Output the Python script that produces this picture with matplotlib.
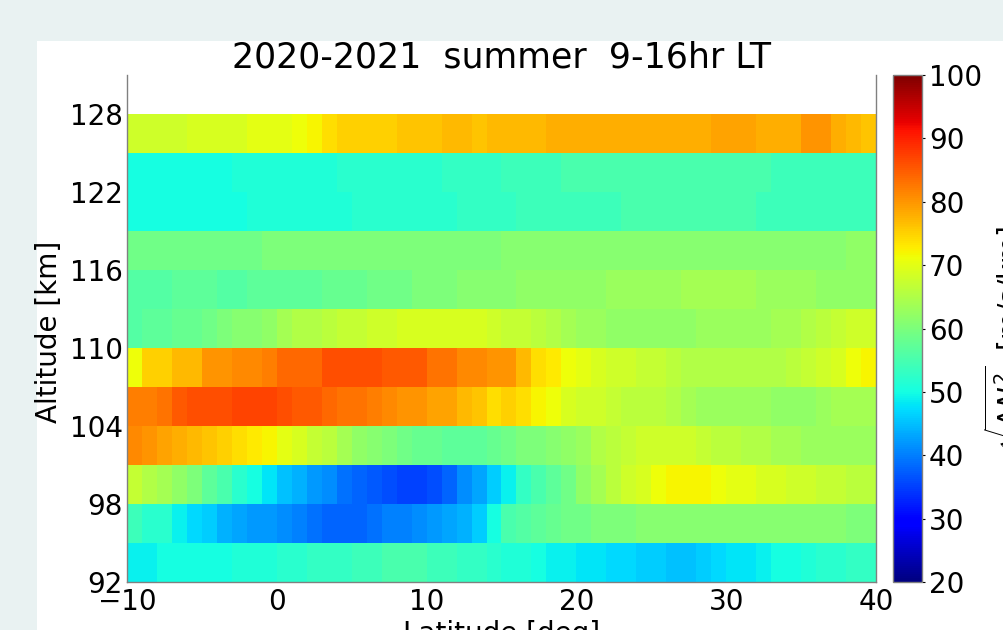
import numpy as np
import matplotlib
matplotlib.use("Agg")
import matplotlib.pyplot as plt
from matplotlib.patches import Rectangle

# ---------------- data ----------------
title = "2020-2021  summer  9-16hr LT"
lat_edges = np.arange(-10, 41, 1)          # 1-deg latitude bins, -10 .. 40
alt_edges = np.arange(92, 129, 3)          # 3-km altitude bins, 92 .. 128
x_ticks = [-10, 0, 10, 20, 30, 40]
y_ticks = [92, 98, 104, 110, 116, 122, 128]
cbar_ticks = [20, 30, 40, 50, 60, 70, 80, 90, 100]

# sqrt(dN^2) [m/s/km], one list per altitude bin (lat -10 .. 39)
row_092 = [49, 49, 50, 50, 50, 50, 50, 51, 51, 51,
           52, 52, 53, 53, 53, 54, 54, 55, 55, 55,
           54, 54, 53, 53, 52, 51, 51, 50, 49, 49,
           48, 48, 47, 47, 46, 46, 45, 45, 46, 47,
           48, 48, 49, 50, 50, 51, 52, 52, 53, 53]
row_095 = [54, 52, 52, 49, 47, 46, 44, 43, 42, 42,
           41, 40, 39, 38, 38, 38, 39, 40, 40, 41,
           42, 43, 44, 46, 50, 55, 56, 57, 58, 59,
           59, 60, 60, 60, 61, 61, 61, 61, 61, 61,
           61, 61, 61, 61, 61, 61, 61, 61, 60, 60]
row_098 = [67, 65, 64, 62, 60, 57, 55, 52, 50, 48,
           45, 44, 42, 41, 39, 38, 37, 36, 35, 35,
           36, 38, 41, 43, 46, 49, 53, 55, 57, 59,
           62, 64, 66, 68, 69, 71, 72, 72, 72, 71,
           70, 70, 69, 69, 68, 68, 67, 67, 66, 66]
row_101 = [81, 80, 79, 78, 77, 76, 75, 74, 73, 72,
           70, 69, 67, 66, 64, 62, 61, 60, 59, 58,
           58, 57, 57, 57, 58, 59, 60, 60, 61, 62,
           63, 65, 66, 67, 68, 68, 68, 68, 67, 66,
           66, 65, 65, 64, 64, 63, 63, 63, 63, 63]
row_104 = [82, 82, 83, 85, 86, 86, 86, 87, 87, 87,
           86, 85, 85, 84, 83, 83, 82, 81, 80, 80,
           79, 79, 77, 76, 74, 75, 74, 72, 71, 69,
           68, 68, 67, 66, 66, 66, 65, 64, 63, 63,
           63, 63, 63, 62, 62, 62, 63, 64, 64, 64]
row_107 = [71, 75, 75, 77, 77, 80, 80, 81, 81, 82,
           84, 84, 84, 86, 86, 86, 86, 85, 85, 85,
           83, 83, 81, 81, 80, 80, 77, 74, 73, 71,
           70, 69, 68, 68, 67, 67, 66, 65, 65, 65,
           65, 65, 65, 65, 66, 67, 68, 69, 71, 72]
row_110 = [56, 57, 57, 58, 58, 59, 60, 61, 61, 62,
           64, 65, 65, 66, 67, 67, 68, 68, 69, 69,
           69, 69, 69, 69, 68, 67, 67, 66, 65, 64,
           63, 63, 62, 62, 62, 62, 62, 62, 63, 63,
           63, 63, 63, 64, 64, 65, 66, 67, 68, 68]
row_113 = [56, 56, 56, 57, 57, 57, 56, 56, 57, 57,
           57, 57, 57, 58, 58, 58, 59, 59, 59, 60,
           60, 60, 61, 61, 61, 61, 62, 62, 62, 62,
           62, 62, 63, 63, 63, 63, 63, 64, 64, 64,
           64, 64, 63, 63, 63, 63, 62, 62, 62, 62]
row_116 = [59, 59, 59, 59, 59, 59, 59, 59, 59, 60,
           60, 60, 60, 60, 60, 60, 60, 60, 60, 60,
           60, 60, 60, 60, 60, 61, 61, 61, 61, 61,
           61, 61, 61, 61, 61, 61, 61, 61, 61, 61,
           61, 61, 61, 61, 61, 61, 61, 61, 62, 62]
row_119 = [50, 50, 50, 50, 50, 50, 50, 50, 51, 51,
           51, 51, 51, 51, 51, 52, 52, 52, 52, 52,
           52, 52, 53, 53, 53, 53, 54, 54, 54, 54,
           54, 54, 54, 55, 55, 55, 55, 55, 55, 55,
           55, 55, 54, 54, 54, 54, 54, 54, 54, 54]
row_122 = [50, 50, 50, 50, 50, 50, 50, 51, 51, 51,
           51, 51, 51, 51, 52, 52, 52, 52, 52, 52,
           52, 53, 53, 53, 53, 54, 54, 54, 54, 55,
           55, 55, 55, 55, 55, 55, 55, 55, 55, 55,
           55, 55, 55, 54, 54, 54, 54, 54, 54, 54]
row_125 = [68, 68, 68, 68, 69, 69, 69, 69, 70, 70,
           70, 71, 72, 74, 75, 75, 75, 75, 76, 76,
           76, 77, 77, 76, 77, 77, 77, 77, 78, 78,
           78, 78, 78, 78, 78, 78, 78, 78, 78, 79,
           79, 79, 78, 78, 78, 80, 80, 78, 77, 76]

values = np.array([row_092, row_095, row_098, row_101, row_104, row_107,
                   row_110, row_113, row_116, row_119, row_122, row_125],
                  dtype=float)

# ---------------- figure ----------------
W, H = 1004, 630
fig = plt.figure(figsize=(W / 100, H / 100), dpi=100)
fig.patch.set_facecolor("#e9f2f2")
fig.patches.append(Rectangle((37 / W, 0), 1, (H - 41) / H,
                             transform=fig.transFigure, facecolor="white",
                             edgecolor="none", zorder=-10))

ax = fig.add_axes([127 / W, 1 - 582 / H, (876 - 127) / W, (582 - 75) / H])
ax.set_facecolor("white")
mesh = ax.pcolormesh(lat_edges, alt_edges, values, cmap="jet",
                     vmin=20, vmax=100, shading="flat")
ax.set_xlim(-10, 40)
ax.set_ylim(92, 131)
ax.set_xticks(x_ticks)
ax.set_yticks(y_ticks)
ax.tick_params(axis="both", length=0, labelsize=20, colors="black")
ax.tick_params(axis="y", pad=3)
ax.tick_params(axis="x", pad=4)
for side in ("left", "right", "bottom"):
    ax.spines[side].set_color("#808080")
    ax.spines[side].set_linewidth(1.0)
ax.spines["top"].set_visible(False)

ax.set_title(title, fontsize=25, pad=5)
ax.set_xlabel("Latitude [deg]", fontsize=20, labelpad=3)
ax.set_ylabel("Altitude [km]", fontsize=20)
ax.yaxis.set_label_coords(-0.086, 0.493)

cax = fig.add_axes([893 / W, 1 - 582 / H, 29 / W, (582 - 75) / H])
cb = fig.colorbar(mesh, cax=cax, ticks=cbar_ticks)
cb.outline.set_edgecolor("#808080")
cb.outline.set_linewidth(1.0)
cax.tick_params(length=2, labelsize=20, pad=3, colors="black")
fig.text(982 / W, 1 - 337 / H, r"$\sqrt{\Delta N^2}$  [m/s/km]",
         rotation=90, ha="left", va="center", fontsize=20)

fig.savefig("out.png", dpi=100, facecolor=fig.get_facecolor())
